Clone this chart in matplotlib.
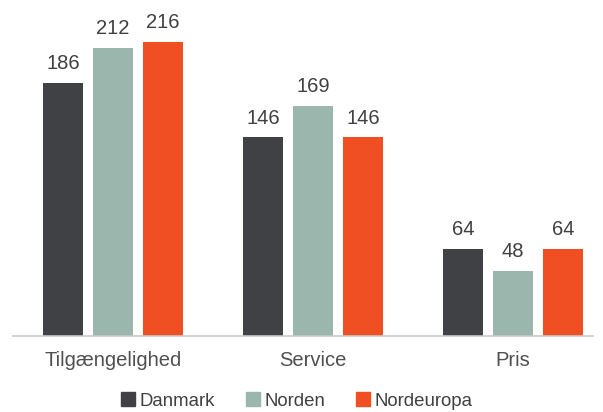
import matplotlib
matplotlib.use("Agg")
import matplotlib.pyplot as plt
import numpy as np

categories = ["Tilgængelighed", "Service", "Pris"]
series_names = ["Danmark", "Norden", "Nordeuropa"]
danmark = [186, 146, 64]
norden = [212, 169, 48]
nordeuropa = [216, 146, 64]
colors = ["#404144", "#9BB6AC", "#F04E23"]

plt.rcParams['font.family'] = ['Liberation Sans', 'DejaVu Sans']

fig = plt.figure(figsize=(6.03, 4.12), dpi=100)
ax = fig.add_axes([13/603, (412-336)/412, 580/603, 336/412])

x = np.arange(len(categories))
width = 0.2
offsets = [-0.25, 0.0, 0.25]
for vals, name, col, off in zip([danmark, norden, nordeuropa], series_names, colors, offsets):
    bars = ax.bar(x + off, vals, width, color=col, label=name)
    for b, v in zip(bars, vals):
        ax.annotate(str(v), (b.get_x() + b.get_width()/2, v), xytext=(0, 7),
                    textcoords="offset points", ha="center", va="bottom",
                    fontsize=14.5, color="#404040")

ax.set_xlim(-0.5, 2.4)
ax.set_ylim(0, 247)
for s in ["top", "right", "left"]:
    ax.spines[s].set_visible(False)
ax.spines["bottom"].set_color("#C8C8C8")
ax.spines["bottom"].set_linewidth(1.2)
ax.set_yticks([])
ax.set_xticks(x)
ax.set_xticklabels(categories, fontsize=14.5, color="#505050")
ax.tick_params(axis="x", length=0, pad=11)

handles = [plt.Line2D([], [], marker="s", linestyle="", markersize=10, color=c) for c in colors]
fig.legend(handles, series_names, loc="center", bbox_to_anchor=(297/603, 1 - 401/412),
           ncol=3, frameon=False, fontsize=13.4, handlelength=0.7, handletextpad=0.25,
           columnspacing=1.7, labelcolor="#404040", borderpad=0.2)

fig.savefig("out.png", dpi=100)
